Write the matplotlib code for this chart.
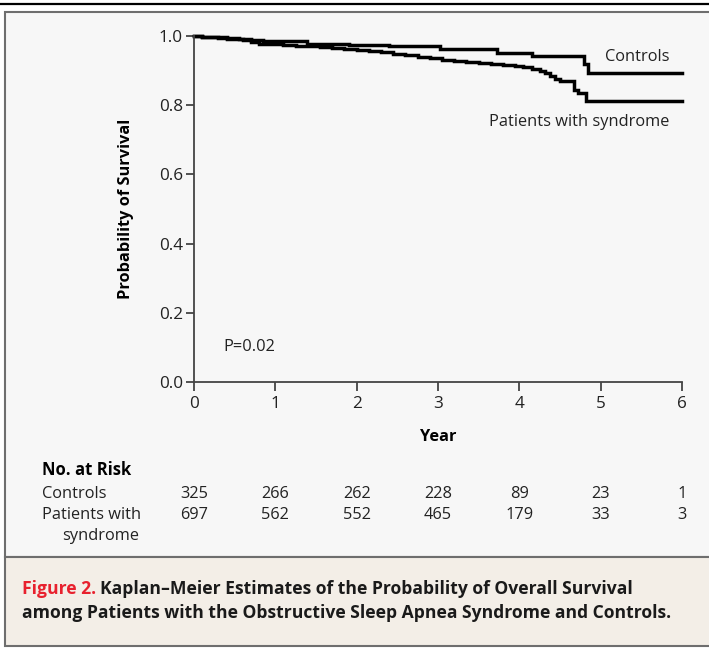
from __future__ import annotations

import matplotlib

matplotlib.use("Agg")
import matplotlib.pyplot as plt
from matplotlib.patches import Rectangle
from matplotlib.lines import Line2D
from matplotlib.transforms import blended_transform_factory


# Kaplan-Meier step points (time in years, survival after the step)
controls_time = [0, 0.10, 0.25, 0.40, 0.55, 0.70, 0.85, 1.39, 1.90, 2.40, 3.03, 3.73, 4.16, 4.79, 4.84]
controls_surv = [1.0, 0.998, 0.996, 0.994, 0.992, 0.989, 0.986, 0.976, 0.974, 0.971, 0.961, 0.951, 0.941, 0.920, 0.894]

patients_time = [0, 0.10, 0.20, 0.30, 0.40, 0.50, 0.60, 0.70, 0.80, 0.95, 1.10, 1.25, 1.40,
                 1.55, 1.70, 1.85, 2.00, 2.15, 2.30, 2.45, 2.60, 2.75, 2.90, 3.05, 3.20,
                 3.35, 3.50, 3.65, 3.80, 3.95, 4.05, 4.15, 4.25, 4.32, 4.38, 4.44, 4.50,
                 4.67, 4.72, 4.82]
patients_surv = [1.0, 0.998, 0.996, 0.994, 0.992, 0.990, 0.988, 0.984, 0.978, 0.976, 0.974, 0.972, 0.970,
                 0.968, 0.965, 0.962, 0.960, 0.957, 0.953, 0.949, 0.944, 0.940, 0.936, 0.932, 0.929,
                 0.926, 0.923, 0.920, 0.917, 0.914, 0.910, 0.906, 0.900, 0.893, 0.884, 0.876, 0.870,
                 0.844, 0.836, 0.812]

follow_up_end = 6.0

risk_years = [0, 1, 2, 3, 4, 5, 6]
controls_at_risk = [325, 266, 262, 228, 89, 23, 1]
patients_at_risk = [697, 562, 552, 465, 179, 33, 3]

FONT = "Open Sans"
W, H = 709, 649
TEXT = "#222222"


def fx(px: float) -> float:
    return px / W


def fy(py: float) -> float:
    return 1 - py / H


plt.rcParams["font.family"] = [FONT, "DejaVu Sans"]

fig = plt.figure(figsize=(W / 100, H / 100), dpi=100)
fig.patch.set_facecolor("white")

# page furniture: rule, panel and caption box
fig.add_artist(Line2D([0, 1], [fy(4), fy(4)], color="black", lw=1.6, transform=fig.transFigure))
fig.add_artist(Rectangle((fx(5), fy(557)), fx(760), 545 / H, transform=fig.transFigure,
                         facecolor="#f7f7f7", edgecolor="#6e6e6e", lw=1.5, zorder=0))
fig.add_artist(Rectangle((fx(5), fy(646)), fx(760), 89 / H, transform=fig.transFigure,
                         facecolor="#f3eee7", edgecolor="#6e6e6e", lw=1.5, zorder=0))

ax = fig.add_axes([fx(194), fy(382), fx(682 - 194), (382 - 36) / H])
ax.set_facecolor("none")

ax.step(controls_time + [follow_up_end], controls_surv + [controls_surv[-1]],
        where="post", color="black", lw=2.5, clip_on=False, solid_joinstyle="miter")
ax.step(patients_time + [follow_up_end], patients_surv + [patients_surv[-1]],
        where="post", color="black", lw=2.5, clip_on=False, solid_joinstyle="miter")

ax.set_xlim(0, 6)
ax.set_ylim(0, 1.0)
ax.set_xticks(range(7))
ax.set_yticks([0, 0.2, 0.4, 0.6, 0.8, 1.0])
ax.set_yticklabels(["0.0", "0.2", "0.4", "0.6", "0.8", "1.0"])
for side in ("top", "right"):
    ax.spines[side].set_visible(False)
for side in ("left", "bottom"):
    ax.spines[side].set_color("#444444")
    ax.spines[side].set_linewidth(1.3)
ax.tick_params(axis="both", colors="#444444", labelcolor=TEXT, width=1.3, labelsize=12.3)
ax.tick_params(axis="y", length=6, pad=2)
ax.tick_params(axis="x", length=6.5, pad=3.5)

ax.set_xlabel("Year", fontsize=11.8, fontweight="bold", labelpad=12)
ax.set_ylabel("Probability of Survival", fontsize=11.8, fontweight="bold", labelpad=18)

ax.text(5.85, 0.938, "Controls", ha="right", va="center", fontsize=11.8, color=TEXT)
ax.text(5.85, 0.750, "Patients with syndrome", ha="right", va="center", fontsize=11.8, color=TEXT)
ax.text(0.36, 0.101, "P=0.02", ha="left", va="center", fontsize=11.8, color=TEXT)

# number at risk table
tr = blended_transform_factory(ax.transData, fig.transFigure)
fig.text(fx(42), fy(470), "No. at Risk", ha="left", va="center", fontsize=12, fontweight="bold")
fig.text(fx(42), fy(494), "Controls", ha="left", va="center", fontsize=11.8, color=TEXT)
fig.text(fx(42), fy(515), "Patients with", ha="left", va="center", fontsize=11.8, color=TEXT)
fig.text(fx(62), fy(536), "syndrome", ha="left", va="center", fontsize=11.8, color=TEXT)
for yr, n_c, n_p in zip(risk_years, controls_at_risk, patients_at_risk):
    ax.text(yr, fy(494), str(n_c), transform=tr, ha="center", va="center", fontsize=11.8, color=TEXT)
    ax.text(yr, fy(515), str(n_p), transform=tr, ha="center", va="center", fontsize=11.8, color=TEXT)

# caption
fig_no = fig.text(fx(22), fy(589), "Figure 2.", ha="left", va="center",
                  fontsize=12.6, fontweight="bold", color="#e8212e")
ax.annotate("Kaplan\u2013Meier Estimates of the Probability of Overall Survival",
            xy=(1, 0.5), xycoords=fig_no, xytext=(3, 0), textcoords="offset points",
            ha="left", va="center", fontsize=12.6, fontweight="bold", color="#1a1a1a",
            annotation_clip=False)
fig.text(fx(22), fy(613), "among Patients with the Obstructive Sleep Apnea Syndrome and Controls.",
         ha="left", va="center", fontsize=12.6, fontweight="bold", color="#1a1a1a")

fig.savefig("out.png", dpi=100)
